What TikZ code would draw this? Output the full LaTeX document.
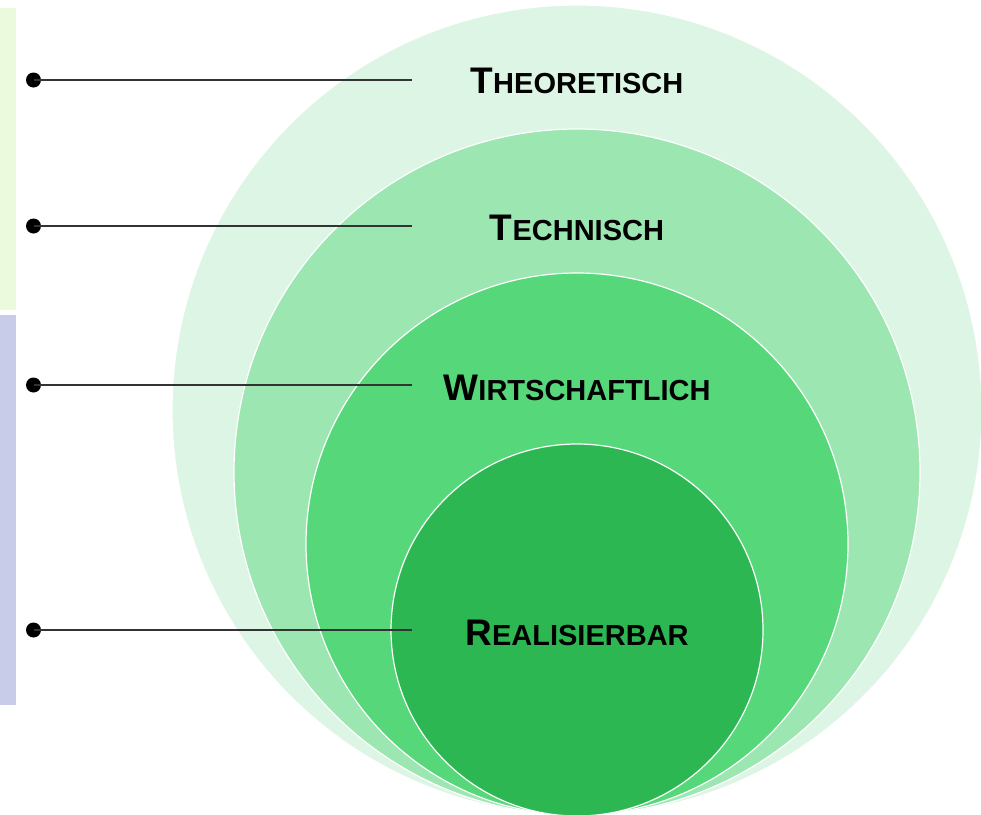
\documentclass[tikz,border=0pt]{standalone}
\usepackage{fontspec}
\setmainfont{Liberation Sans}
\definecolor{c1}{HTML}{DDF5E4}
\definecolor{c2}{HTML}{9CE6B1}
\definecolor{c3}{HTML}{56D77A}
\definecolor{c4}{HTML}{2DB752}
\definecolor{barg}{HTML}{EBF9DC}
\definecolor{barb}{HTML}{C8CCE8}
\definecolor{linec}{HTML}{333333}
\newcommand{\mysc}[2]{{\fontsize{37}{37}\selectfont #1}{\fontsize{29}{29}\selectfont #2}}
\tikzset{
  ring/.style={draw=white, line width=1.2pt},
  lbl/.style={anchor=base, font=\bfseries, inner sep=0pt},
  dotnode/.style={circle, fill=black, minimum size=15pt, inner sep=0pt},
  leader/.style={draw=linec, line width=1.1pt}
}
\begin{document}
\begin{tikzpicture}[x=1pt,y=-1pt]
\useasboundingbox (0,0) rectangle (981,814);
\fill[white] (0,0) rectangle (981,814);
\fill[barg] (0,8) rectangle (16,310);
\fill[barb] (0,315) rectangle (16,705);
\draw[ring, fill=c1] (577,410) circle (405);
\draw[ring, fill=c2] (577,472) circle (343);
\draw[ring, fill=c3] (577,544) circle (271);
\draw[ring, fill=c4] (577,630) circle (186);
\node[lbl] (t1) at (577,93) {\mysc{T}{HEORETISCH}};
\node[lbl] (t2) at (577,240) {\mysc{T}{ECHNISCH}};
\node[lbl] (t3) at (577,400) {\mysc{W}{IRTSCHAFTLICH}};
\node[lbl] (t4) at (577,645) {\mysc{R}{EALISIERBAR}};
\node[dotnode] (d1) at (33.5,80) {};
\node[dotnode] (d2) at (33.5,226) {};
\node[dotnode] (d3) at (33.5,385) {};
\node[dotnode] (d4) at (33.5,630) {};
\coordinate (e1) at (412,80);
\coordinate (e2) at (412,226);
\coordinate (e3) at (412,385);
\coordinate (e4) at (412,630);
\draw[leader] (d1.center) -- (e1);
\draw[leader] (d2.center) -- (e2);
\draw[leader] (d3.center) -- (e3);
\draw[leader] (d4.center) -- (e4);
\end{tikzpicture}
\end{document}
